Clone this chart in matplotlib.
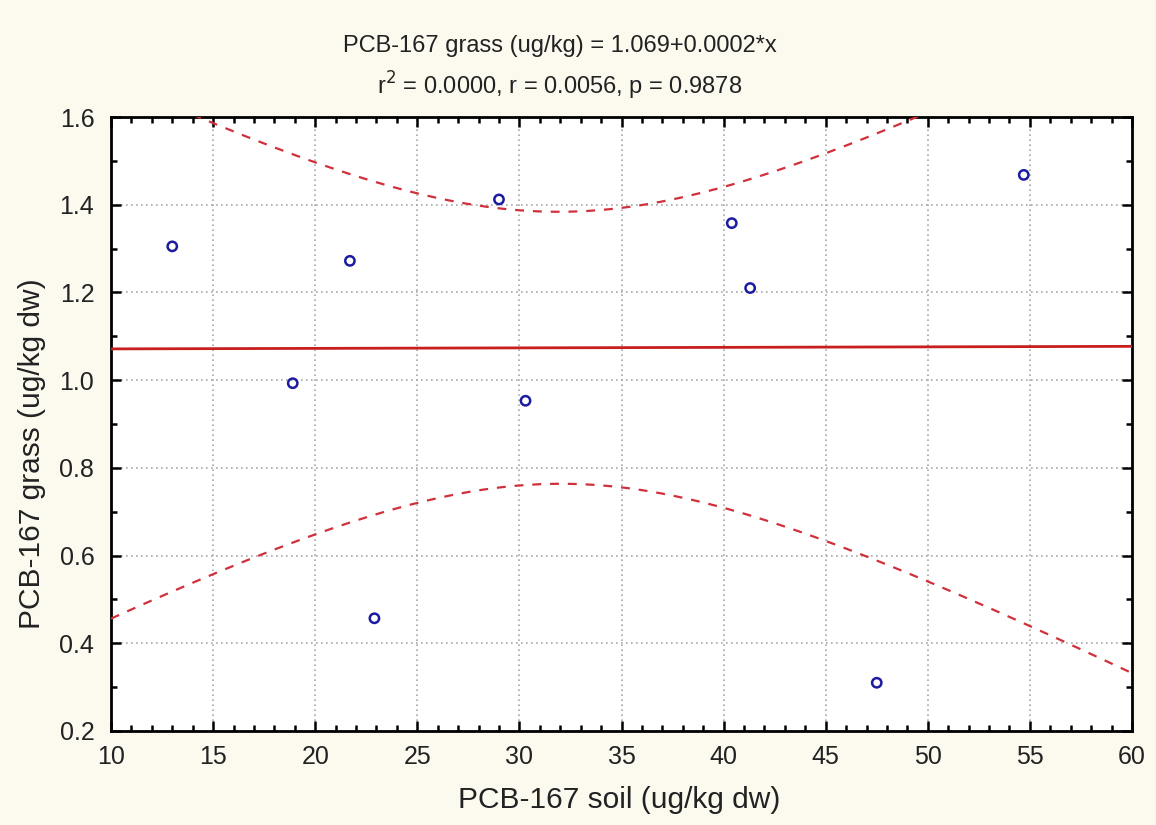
import numpy as np
import matplotlib
matplotlib.use("Agg")
import matplotlib.pyplot as plt
from matplotlib.ticker import MultipleLocator

plt.rcParams['font.family'] = ['Liberation Sans', 'DejaVu Sans']

# PCB-167 values
soil = [13.0, 18.9, 21.7, 22.9, 29.0, 30.3, 40.4, 41.3, 47.5, 54.7]
grass = [1.305, 0.993, 1.272, 0.457, 1.412, 0.953, 1.358, 1.21, 0.31, 1.468]

title_line1 = "PCB-167 grass (ug/kg) = 1.069+0.0002*x"
title_line2 = "r$^2$ = 0.0000, r = 0.0056, p = 0.9878"
x_label = "PCB-167 soil (ug/kg dw)"
y_label = "PCB-167 grass (ug/kg dw)"

x = np.array(soil)
y = np.array(grass)
n = len(x)

# linear fit + 95% confidence band of the mean
slope, intercept = np.polyfit(x, y, 1)
resid = y - (intercept + slope * x)
s = np.sqrt(np.sum(resid ** 2) / (n - 2))
t_crit = 2.306  # t(0.975, df=8)
xs = np.linspace(10, 60, 300)
fit = intercept + slope * xs
half = t_crit * s * np.sqrt(1 / n + (xs - x.mean()) ** 2 / np.sum((x - x.mean()) ** 2))

bg = "#fcf9ef"
fig = plt.figure(figsize=(11.56, 8.25), dpi=100, facecolor=bg)
ax = fig.add_axes([111 / 1156, 1 - 731 / 825, (1132 - 111) / 1156, (731 - 117) / 825])
ax.set_facecolor("white")

ax.grid(True, which="major", linestyle=(0, (1, 2)), color="#a8a8a8", linewidth=1.2)
ax.set_axisbelow(True)

ax.plot(xs, fit, color="#c81e1e", linewidth=2, zorder=3)
ax.plot(xs, fit + half, color="#d0303a", linewidth=1.6, linestyle=(0, (4, 4)), zorder=3)
ax.plot(xs, fit - half, color="#d0303a", linewidth=1.6, linestyle=(0, (4, 4)), zorder=3)
ax.scatter(x, y, s=45, facecolors="none", edgecolors="#1c1ca0", linewidths=1.8, zorder=4)

ax.set_xlim(10, 60)
ax.set_ylim(0.2, 1.6)
ax.xaxis.set_major_locator(MultipleLocator(5))
ax.xaxis.set_minor_locator(MultipleLocator(1))
ax.yaxis.set_major_locator(MultipleLocator(0.2))
ax.yaxis.set_minor_locator(MultipleLocator(0.1))
ax.yaxis.set_major_formatter(plt.FuncFormatter(lambda v, p: f"{v:.1f}"))
ax.tick_params(which="both", direction="in", top=True, right=True, width=1.8, colors="black",
               labelsize=18, labelcolor="#222222")
ax.tick_params(which="major", length=7)
ax.tick_params(which="minor", length=4)
ax.tick_params(axis="x", pad=10)
ax.tick_params(axis="y", pad=12)
for sp in ax.spines.values():
    sp.set_linewidth(2)
    sp.set_color("black")

fig.text(560 / 1156, 1 - 46 / 825, title_line1, ha="center", va="center", fontsize=17, color="#222222")
fig.text(560 / 1156, 1 - 86 / 825, title_line2, ha="center", va="center", fontsize=17, color="#222222")
fig.text(619 / 1156, 1 - 800 / 825, x_label, ha="center", va="center", fontsize=21.5, color="#222222")
fig.text(32 / 1156, 1 - 454 / 825, y_label, ha="center", va="center", rotation=90, fontsize=21.5, color="#222222")

fig.savefig("out.png", dpi=100, facecolor=bg)
